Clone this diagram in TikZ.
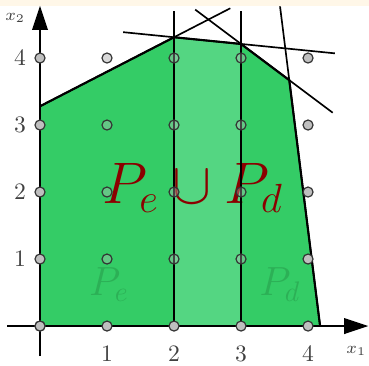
\documentclass[tikz,border=0pt]{standalone}
\usepackage{amsmath, amssymb}
\usepackage{xcolor}
\usepackage{tikz}
\usetikzlibrary{arrows.meta, calc}

\definecolor{polygreen}{RGB}{52,204,102}
\definecolor{stripgreen}{RGB}{84,214,130}
\definecolor{labelgreen}{RGB}{44,176,86}
\definecolor{unionred}{RGB}{139,0,0}
\definecolor{cream}{RGB}{255,247,232}

\begin{document}
\begin{tikzpicture}[
  axis/.style={line width=1pt, -{Triangle[length=3.6mm, width=2.3mm]}},
  cut/.style={line width=0.7pt},
  edge/.style={line width=0.9pt},
  gdot/.style={circle, draw=black!80, line width=0.5pt, fill=gray!50,
               inner sep=0pt, minimum size=1.5mm},
  ldot/.style={gdot, fill=gray!30},
  idot/.style={gdot, fill=gray!50, fill opacity=0.35},
  tick/.style={font=\normalsize, text=black!75},
  axlab/.style={font=\scriptsize, text=black!75},
  faint/.style={font=\LARGE, text=labelgreen},
]
\useasboundingbox (-0.597,-0.582) rectangle (4.910,4.866);
\fill[cream] (-0.597,4.776) rectangle (4.910,4.866);

%% ---- vertices of the polyhedron ----
\coordinate (A) at (0,0);
\coordinate (B) at (0,3.28);
\coordinate (C) at (2,4.31);
\coordinate (D) at (3,4.21);
\coordinate (E) at (3.72,3.67);
\coordinate (F) at (4.18,0);

%% ---- regions ----
\fill[polygreen] (A) -- (B) -- (C) -- (D) -- (E) -- (F) -- cycle;
\fill[stripgreen] (2,0) -- (C) -- (D) -- (3,0) -- cycle;

\node[faint] (pe) at (1.03,0.62) {$P_e$};
\node[faint] (pd) at (3.58,0.62) {$P_d$};
\node[font=\fontsize{23}{27}\selectfont, text=unionred, anchor=base]
      (union) at (2.28,1.83) {$P_e\cup P_d$};

%% ---- cutting planes ----
\draw[cut] (2,0) -- (2,4.70);
\draw[cut] (3,0) -- (3,4.70);
\draw[cut] (B) -- ($(B)!1.42!(C)$);
\draw[cut] ($(C)!-0.76!(D)$) -- ($(C)!2.40!(D)$);
\draw[cut] ($(D)!-0.95!(E)$) -- ($(D)!1.90!(E)$);
\draw[cut] (F) -- ($(F)!1.30!(E)$);
\draw[edge] (B) -- (C) -- (D) -- (E) -- (F);

%% ---- axes ----
\draw[axis] (-0.49,0) -- (4.90,0);
\draw[axis] (0,-0.45) -- (0,4.78);
\node[axlab] (xone) at (4.72,-0.37) {$x_1$};
\node[axlab] (xtwo) at (-0.37,4.60) {$x_2$};
\foreach \i in {1,...,4} {
  \node[tick] (xt\i) at (\i,-0.41) {\i};
  \node[tick] (yt\i) at (-0.30,\i) {\i};
}

%% ---- integer points ----
\foreach \p in {0,1,2,3,4} {
  \node[gdot] (d\p0) at (\p,0) {};
  \node[gdot] (d0\p) at (0,\p) {};
}
\foreach \p in {1,2,3}
  \foreach \q in {1,2,3}
    \node[idot] (d\p\q) at (\p,\q) {};
\node[idot] (d24) at (2,4) {};
\node[idot] (d34) at (3,4) {};
\node[ldot] (d14) at (1,4) {};
\foreach \q in {1,...,4}
  \node[gdot] (d4\q) at (4,\q) {};

\end{tikzpicture}
\end{document}
